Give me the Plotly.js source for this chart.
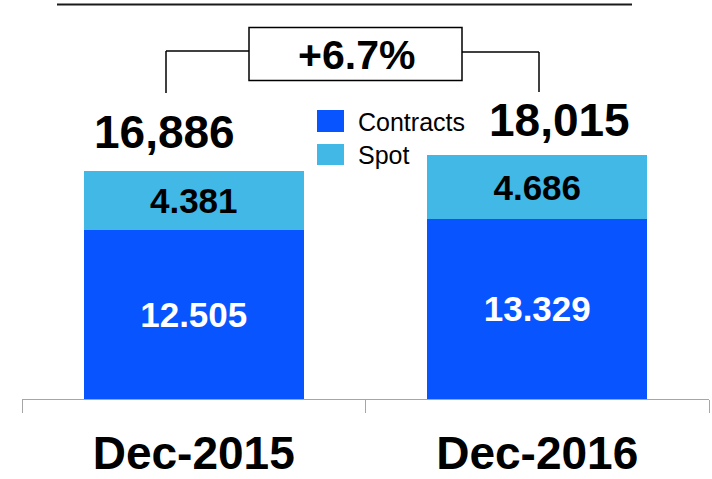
<!DOCTYPE html>
<html>
<head>
<meta charset="utf-8">
<script src="https://cdn.plot.ly/plotly-3.0.1.min.js"></script>
<style>html,body{margin:0;padding:0;background:#fff;}#chart{width:712px;height:479px;}</style>
</head>
<body>
<div id="chart"></div>
<script>
// ---- data ----
const categories = ["Dec-2015", "Dec-2016"];
const contracts = [12.505, 13.329];
const spot = [4.381, 4.686];
const seriesNames = ["Contracts", "Spot"];

// ---- style ----
const FONT = "Liberation Sans, Arial, Helvetica, sans-serif";
const C_CONTRACTS = "#0854FF";
const C_SPOT = "#42B8E6";
const W = 712, H = 479;
const L = 22, R = 3, T = 0, B = 80;
const PW = W - L - R, PH = H - T - B;
const px = v => (v - L) / PW;      // pixel x -> paper
const py = v => (H - B - v) / PH;  // pixel y -> paper

const totals = categories.map((c, i) => contracts[i] + spot[i]);
const totalLabels = totals.map(t => t.toFixed(3).replace(".", ","));
const growth = (totals[1] / totals[0] - 1) * 100;
const growthLabel = "+" + growth.toFixed(1) + "%";

const traces = [
  {
    type: "bar", name: seriesNames[0], x: categories, y: contracts,
    marker: {color: C_CONTRACTS, line: {width: 0}},
    texttemplate: "%{y:.3f}", textposition: "inside", insidetextanchor: "middle",
    textangle: 0, constraintext: "none",
    textfont: {family: FONT, size: 35, color: "#ffffff", weight: "bold"},
    hoverinfo: "skip"
  },
  {
    type: "bar", name: seriesNames[1], x: categories, y: spot,
    marker: {color: C_SPOT, line: {width: 0}},
    texttemplate: "%{y:.3f}", textposition: "inside", insidetextanchor: "middle",
    textangle: 0, constraintext: "none",
    textfont: {family: FONT, size: 35, color: "#000000", weight: "bold"},
    hoverinfo: "skip"
  }
];

const lineStyle = {color: "#000000", width: 1.5};
const shapes = [
  // top rule
  {type: "line", xref: "paper", yref: "paper", x0: px(57), x1: px(632), y0: py(4.5), y1: py(4.5), line: {color: "#1a1a1a", width: 2}},
  // bracket left
  {type: "line", xref: "paper", yref: "paper", x0: px(166), x1: px(166), y0: py(51), y1: py(93), line: lineStyle},
  {type: "line", xref: "paper", yref: "paper", x0: px(166), x1: px(249), y0: py(51), y1: py(51), line: lineStyle},
  // box
  {type: "rect", xref: "paper", yref: "paper", x0: px(249), x1: px(462), y0: py(27.5), y1: py(80.5), line: lineStyle, fillcolor: "rgba(0,0,0,0)"},
  // bracket right
  {type: "line", xref: "paper", yref: "paper", x0: px(462), x1: px(539), y0: py(52), y1: py(52), line: lineStyle},
  {type: "line", xref: "paper", yref: "paper", x0: px(539), x1: px(539), y0: py(52), y1: py(92), line: lineStyle},
  // legend swatches
  {type: "rect", xref: "paper", yref: "paper", x0: px(317), x1: px(344), y0: py(110), y1: py(132), line: {width: 0}, fillcolor: C_CONTRACTS},
  {type: "rect", xref: "paper", yref: "paper", x0: px(317), x1: px(344), y0: py(144), y1: py(165), line: {width: 0}, fillcolor: C_SPOT}
];

const annotations = [
  {x: categories[0], y: totals[0], xref: "x", yref: "y", text: totalLabels[0], showarrow: false,
   xanchor: "center", yanchor: "middle", xshift: -29, yshift: 39,
   font: {family: FONT, size: 46, color: "#000", weight: "bold"}},
  {x: categories[1], y: totals[1], xref: "x", yref: "y", text: totalLabels[1], showarrow: false,
   xanchor: "center", yanchor: "middle", xshift: 22.5, yshift: 35,
   font: {family: FONT, size: 46, color: "#000", weight: "bold"}},
  {x: px(356), y: py(55), xref: "paper", yref: "paper", text: growthLabel, showarrow: false,
   xanchor: "center", yanchor: "middle",
   font: {family: FONT, size: 41, color: "#000", weight: "bold"}},
  {x: px(356), y: py(122), xref: "paper", yref: "paper", text: seriesNames[0], showarrow: false,
   xanchor: "left", yanchor: "middle", font: {family: FONT, size: 25, color: "#000"}},
  {x: px(356), y: py(155), xref: "paper", yref: "paper", text: seriesNames[1], showarrow: false,
   xanchor: "left", yanchor: "middle", font: {family: FONT, size: 25, color: "#000"}}
];

const layout = {
  width: W, height: H,
  margin: {l: L, r: R, t: T, b: B, pad: 0},
  paper_bgcolor: "#ffffff", plot_bgcolor: "#ffffff",
  barmode: "stack", bargap: 0.36,
  showlegend: false,
  font: {family: FONT},
  xaxis: {
    type: "category", range: [-0.5, 1.5], fixedrange: true,
    showline: true, linecolor: "#a6a6a6", linewidth: 1,
    ticks: "outside", tickson: "boundaries", ticklen: 13, tickcolor: "#a6a6a6", tickwidth: 1,
    showgrid: false, zeroline: false,
    tickfont: {family: FONT, size: 46, color: "#000", weight: "bold"},
    ticklabelstandoff: 14
  },
  yaxis: {visible: false, range: [0, 29.5], showgrid: false, zeroline: false, fixedrange: true},
  shapes: shapes,
  annotations: annotations
};

Plotly.newPlot("chart", traces, layout, {staticPlot: true, displayModeBar: false});
</script>
</body>
</html>
